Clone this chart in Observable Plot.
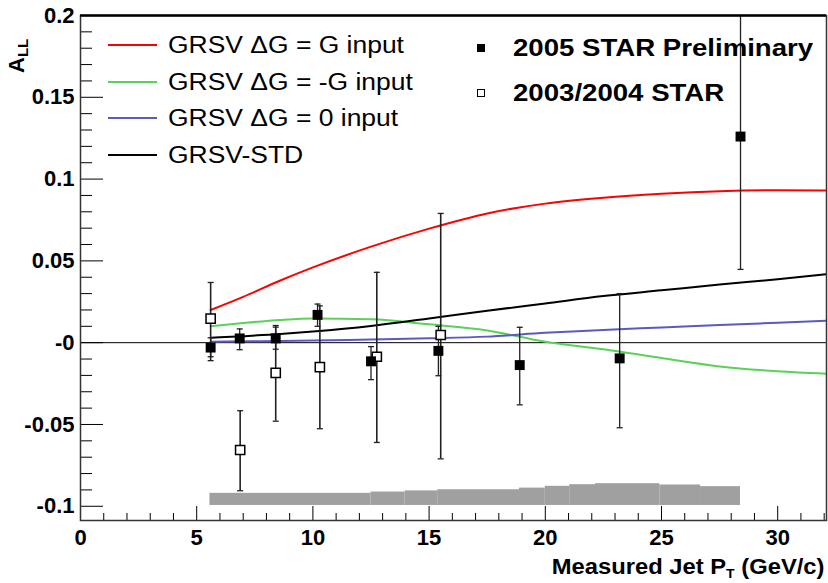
<!DOCTYPE html>
<html><head><meta charset="utf-8">
<script src="https://cdn.jsdelivr.net/npm/d3@7"></script>
<script src="https://cdn.jsdelivr.net/npm/@observablehq/plot@0.6"></script>
<style>
body{margin:0;background:#fff;}
#wrap{position:relative;width:828px;height:583px;font-family:"Liberation Sans",Arial,sans-serif;color:#000;overflow:hidden;}
#wrap svg{position:absolute;left:0;top:0;}
.ov{position:absolute;white-space:nowrap;}
.row{position:absolute;height:24px;display:flex;align-items:center;}
.sw{display:inline-block;width:49px;height:2px;margin-right:11px;}
.lt{display:inline-block;font-size:23px;line-height:24px;transform-origin:left center;transform:scaleX(1.15);}
.bt{display:inline-block;font-size:23px;line-height:24px;font-weight:bold;transform-origin:left center;transform:scaleX(1.2);}
.mk{display:inline-block;width:8px;height:8px;box-sizing:border-box;margin-right:28px;}
</style></head><body><div id="wrap"></div>
<script>
// ---- data ----
const star2005PT = [5.6, 6.85, 8.4, 10.2, 12.5, 15.4, 18.9, 23.2, 28.4];
const star2005A  = [-0.003, 0.0026, 0.0026, 0.017, -0.0114, -0.005, -0.0137, -0.0096, 0.126];
const star2005Lo = [-0.0086, -0.0043, -0.0040, 0.010, -0.0226, -0.0202, -0.038, -0.052, 0.0448];
const star2005Hi = [0.003, 0.0084, 0.0095, 0.0236, -0.0024, 0.010, 0.0094, 0.030, 0.207];

const star0304PT = [5.6, 6.87, 8.4, 10.3, 12.75, 15.5];
const star0304A  = [0.0147, -0.0656, -0.0185, -0.015, -0.0086, 0.0047];
const star0304Lo = [-0.011, -0.0905, -0.048, -0.0526, -0.061, -0.071];
const star0304Hi = [0.0368, -0.0416, 0.0105, 0.0225, 0.043, 0.079];

const curvePT   = [5.6, 7, 8.6, 10, 12.5, 15, 17.5, 20, 22.5, 25, 27.5, 30, 32.1];
const grsvG     = [0.020, 0.028, 0.038, 0.046, 0.0587, 0.0697, 0.079, 0.085, 0.0886, 0.091, 0.0926, 0.0932, 0.093];
const grsvMinusG= [0.010, 0.012, 0.0139, 0.0148, 0.0143, 0.0112, 0.0075, 0.0005, -0.004, -0.0094, -0.0145, -0.0175, -0.019];
const grsvZero  = [0.0006, 0.0008, 0.001, 0.0013, 0.002, 0.0027, 0.0037, 0.006, 0.0078, 0.0093, 0.0108, 0.0122, 0.0134];
const grsvStd   = [0.003, 0.004, 0.0053, 0.0068, 0.0102, 0.0148, 0.0195, 0.024, 0.0285, 0.032, 0.0355, 0.0388, 0.0418];

const sysEdges  = [5.57, 12.5, 13.97, 15.37, 18.89, 20.0, 21.05, 22.16, 24.93, 26.68, 28.4];
const sysTop    = [-0.0921, -0.0913, -0.0906, -0.0899, -0.0889, -0.0878, -0.0868, -0.0862, -0.087, -0.088];
const sysBottom = -0.0995;

const xTicks = [0, 5, 10, 15, 20, 25, 30];
const xMinor = d3.range(0, 33, 1).filter(v => v % 5 !== 0);
const yTicks = [-0.1, -0.05, 0, 0.05, 0.1, 0.15, 0.2];
const yTickLabels = ["-0.1", "-0.05", "-0", "0.05", "0.1", "0.15", "0.2"];
const yMinor = d3.range(-10, 21, 1).filter(v => v % 5 !== 0).map(v => v / 100);

const seriesNames = ["GRSV \u0394G = G input", "GRSV \u0394G = -G input", "GRSV \u0394G = 0 input", "GRSV-STD"];
const seriesColors = ["#ff0000", "#5ad25a", "#5a5ac0", "#000000"];
const dataNames = ["2005 STAR Preliminary", "2003/2004 STAR"];

// ---- build tables ----
const s2005 = star2005PT.map((x, i) => ({x, y: star2005A[i], lo: star2005Lo[i], hi: star2005Hi[i]}));
const s0304 = star0304PT.map((x, i) => ({x, y: star0304A[i], lo: star0304Lo[i], hi: star0304Hi[i]}));
const curves = [grsvG, grsvMinusG, grsvZero, grsvStd].map(arr => curvePT.map((x, i) => ({x, y: arr[i]})));
const band = sysTop.map((t, i) => ({x1: sysEdges[i], x2: sysEdges[i + 1], y1: sysBottom, y2: t}));

const W = 828, H = 583, mL = 80, mT = 15, mR = 2, mB = 63;
const fW = W - mL - mR, fH = H - mT - mB;

const cap = {draw(ctx, size) { const h = Math.sqrt(size / Math.PI); ctx.moveTo(-h, 0); ctx.lineTo(h, 0); }};

const plot = Plot.plot({
  width: W, height: H,
  marginLeft: mL, marginTop: mT, marginRight: mR, marginBottom: mB,
  style: {background: "white", fontFamily: "'Liberation Sans', Arial, sans-serif", overflow: "visible"},
  x: {domain: [0, 32.1]},
  y: {domain: [-0.1087, 0.2]},
  marks: [
    Plot.rect(band, {x1: "x1", x2: "x2", y1: "y1", y2: "y2", fill: "#a0a0a0"}),
    Plot.ruleY([0], {stroke: "black", strokeWidth: 1}),
    ...curves.map((c, i) => Plot.line(c, {x: "x", y: "y", stroke: seriesColors[i], strokeWidth: 2, curve: "monotone-x", clip: true})),
    Plot.ruleX(s0304, {x: "x", y1: "lo", y2: "hi", stroke: "#222", strokeWidth: 1.6, clip: true}),
    Plot.dot(s0304, {x: "x", y: "lo", symbol: cap, r: 3, stroke: "#222", fill: "none", strokeWidth: 1.3, clip: true}),
    Plot.dot(s0304, {x: "x", y: "hi", symbol: cap, r: 3, stroke: "#222", fill: "none", strokeWidth: 1.3, clip: true}),
    Plot.ruleX(s2005, {x: "x", y1: "lo", y2: "hi", stroke: "#222", strokeWidth: 1.3, clip: true}),
    Plot.dot(s2005, {x: "x", y: "lo", symbol: cap, r: 3, stroke: "#222", fill: "none", strokeWidth: 1.3, clip: true}),
    Plot.dot(s2005, {x: "x", y: "hi", symbol: cap, r: 3, stroke: "#222", fill: "none", strokeWidth: 1.3, clip: true}),
    Plot.dot(s0304, {x: "x", y: "y", symbol: "square", r: 5.2, fill: "white", stroke: "black", strokeWidth: 1.5}),
    Plot.dot(s2005, {x: "x", y: "y", symbol: "square", r: 5.6, fill: "black", stroke: "none"}),
    Plot.tickY(yTicks, {y: d => d, insetRight: fW - 23, stroke: "black", strokeWidth: 1}),
    Plot.tickY(yMinor, {y: d => d, insetRight: fW - 12, stroke: "black", strokeWidth: 1}),
    Plot.tickX(xTicks, {x: d => d, insetTop: fH - 14, stroke: "black", strokeWidth: 1}),
    Plot.tickX(xMinor, {x: d => d, insetTop: fH - 7, stroke: "black", strokeWidth: 1}),
    Plot.frame({stroke: "#333", strokeWidth: 1.5}),
    Plot.ruleY([0.2], {stroke: "black", strokeWidth: 2.5}),
    Plot.axisY(yTicks, {tickSize: 0, tickPadding: 6, label: null, fontSize: 22, fontWeight: "bold", fill: "black",
      tickFormat: d => yTickLabels[yTicks.indexOf(d)]}),
    Plot.axisX(xTicks, {tickSize: 0, tickPadding: 9, label: null, fontSize: 22, fontWeight: "bold", fill: "black",
      tickFormat: d => String(d)})
  ]
});

const wrap = document.getElementById("wrap");
wrap.appendChild(plot);

// ---- legend overlays ----
const rowCenters = [45, 81.5, 118, 155];
seriesNames.forEach((name, i) => {
  const r = document.createElement("div");
  r.className = "row";
  r.style.left = "108px";
  r.style.top = (rowCenters[i] - 12) + "px";
  r.innerHTML = `<span class="sw" style="background:${seriesColors[i]}"></span><span class="lt"></span>`;
  r.querySelector(".lt").textContent = name;
  wrap.appendChild(r);
});
const dataCenters = [47.5, 92.5];
dataNames.forEach((name, i) => {
  const r = document.createElement("div");
  r.className = "row";
  r.style.left = "477px";
  r.style.top = (dataCenters[i] - 12) + "px";
  const mkStyle = i === 0 ? "background:#000;" : "background:#fff;border:1.3px solid #000;";
  r.innerHTML = `<span class="mk" style="${mkStyle}"></span><span class="bt"></span>`;
  r.querySelector(".bt").textContent = name;
  wrap.appendChild(r);
});

// ---- axis titles ----
const xt = document.createElement("div");
xt.className = "ov";
xt.style.cssText = "right:4px;top:556px;font-size:22px;line-height:22px;font-weight:bold;transform-origin:right center;transform:scaleX(1.08);";
xt.innerHTML = 'Measured Jet P<sub style="font-size:13px;vertical-align:-4px;line-height:0;">T</sub> (GeV/c)';
wrap.appendChild(xt);

const yt = document.createElement("div");
yt.className = "ov";
yt.style.cssText = "left:6px;top:73px;font-size:22px;line-height:22px;font-weight:bold;transform-origin:0 0;transform:rotate(-90deg);";
yt.innerHTML = 'A<sub style="font-size:15px;vertical-align:-4px;line-height:0;">LL</sub>';
wrap.appendChild(yt);
</script></body></html>
